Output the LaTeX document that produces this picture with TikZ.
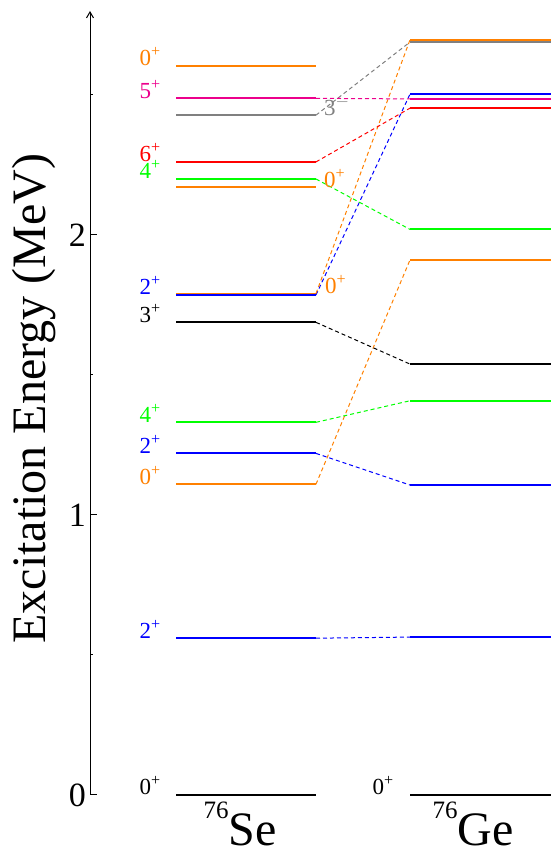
\documentclass[tikz,border=0pt]{standalone}
\usepackage{fontspec}
\setmainfont{Liberation Serif}
\usepackage{tikz}
\usetikzlibrary{arrows.meta,positioning}

\newcommand{\jp}[2]{#1\textsuperscript{#2}}
\newcommand{\nuc}[2]{\raisebox{27pt}{\fontsize{25}{25}\selectfont #1}#2}

\begin{document}
\begin{tikzpicture}[x=1pt,y=280pt,
  level/.style={line width=2pt},
  link/.style={dash pattern=on 4pt off 3pt,line width=1pt},
  spin/.style={font=\fontsize{23}{23}\selectfont,inner sep=0pt},
  nucl/.style={font=\fontsize{48}{48}\selectfont,inner sep=0pt,anchor=base}]
\useasboundingbox (0,-0.1893) rectangle (554,2.8393);

% axis
\coordinate (origin) at (90,0);
\coordinate (top) at (90,2.80);
\draw[line width=1pt,-{Straight Barb[length=6pt,width=7pt]}] (origin) -- (top);
\foreach \t in {0,1,2}{
  \draw[line width=1pt] (90,\t) -- (97,\t);
  \node[font=\fontsize{34}{34}\selectfont,inner sep=0pt,anchor=east] (tick\t) at (86,\t) {\t};
}
\foreach \t in {0.5,1.5,2.5}
  \draw[line width=1pt] (90,\t) -- (93,\t);
\node[rotate=90,font=\fontsize{48}{48}\selectfont,inner sep=0pt] (ylab) at (34,1.415) {Excitation Energy (MeV)};

% levels of 76Se
\foreach \n/\e/\c in {s0/0/black, s1/0.560/blue, s2/1.110/orange, s3/1.220/blue,
    s4/1.331/green, s5/1.688/black, s6o/1.791/orange, s6/1.786/blue,
    s7/2.170/orange, s8/2.200/green, s9/2.261/red, s10/2.428/gray,
    s11/2.488/magenta, s12/2.604/orange}{
  \coordinate (\n a) at (176,\e);
  \coordinate (\n b) at (316,\e);
  \draw[level,\c] (\n a) -- (\n b);
}

% levels of 76Ge
\foreach \n/\e/\c in {g0/0/black, g1/0.564/blue, g2/1.107/blue, g3/1.408/green,
    g4/1.539/black, g5/1.911/orange, g6/2.020/green, g7/2.453/red,
    g8/2.486/magenta, g9/2.503/blue, g10g/2.689/gray, g10/2.697/orange}{
  \coordinate (\n a) at (410,\e);
  \coordinate (\n b) at (551,\e);
  \draw[level,\c] (\n a) -- (\n b);
}

% links
\foreach \a/\b/\c in {s1/g1/blue, s2/g5/orange, s3/g2/blue, s4/g3/green,
    s5/g4/black, s6/g9/blue, s6o/g10/orange, s8/g6/green, s9/g7/red,
    s10/g10g/gray, s11/g8/magenta}
  \draw[link,\c] (\a b) -- (\b a);

% spin labels
\foreach \n/\j/\p/\c in {s0/0/+/black, s1/2/+/blue, s2/0/+/orange, s3/2/+/blue,
    s4/4/+/green, s5/3/+/black, s6/2/+/blue, s8/4/+/green, s9/6/+/red,
    s11/5/+/magenta, s12/0/+/orange}
  \node[spin,\c,anchor=base east] (lab-\n) at ([xshift=-15pt]\n a) {\jp{\j}{\p}};
\node[spin,orange,anchor=base west] (lab-s6o) at ([xshift=9pt]s6ob) {\jp{0}{+}};
\node[spin,orange,anchor=base west] (lab-s7) at ([xshift=8pt]s7b) {\jp{0}{+}};
\node[spin,gray,anchor=base west] (lab-s10) at ([xshift=8pt]s10b) {3$^{-}$};
\node[spin,black,anchor=base east] (lab-g0) at ([xshift=-16pt]g0a) {\jp{0}{+}};

% nuclei
\node[nucl] (se) at (240,-0.1786) {\nuc{76}{Se}};
\node[nucl] (ge) at (473,-0.1786) {\nuc{76}{Ge}};
\end{tikzpicture}
\end{document}
